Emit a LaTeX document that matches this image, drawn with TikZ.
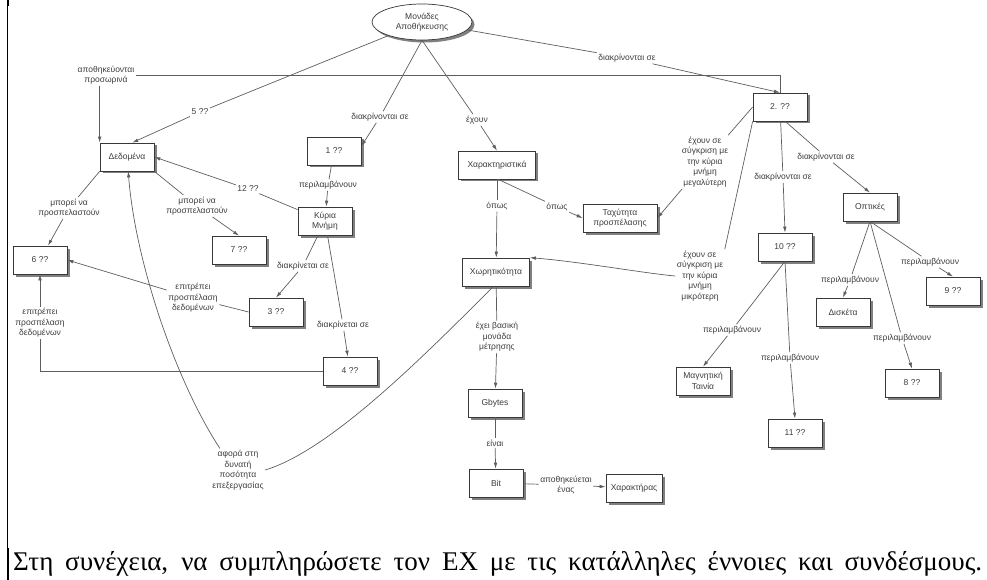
\documentclass[tikz,border=0pt]{standalone}
\usepackage{fontspec}
\setmainfont{Liberation Serif}
\newfontfamily\diagfont{Liberation Sans}
\usetikzlibrary{arrows.meta,shadows,calc,shapes.geometric}
\definecolor{ink}{HTML}{3C3C3C}
\definecolor{wirec}{HTML}{5E5E5E}
\definecolor{framec}{HTML}{383838}

\begin{document}
\begin{tikzpicture}[x=1pt,y=-1pt,
  every node/.style={font=\diagfont\fontsize{8.5}{10.5}\selectfont, text=ink},
  boxshadow/.style={drop shadow={shadow xshift=2.5pt, shadow yshift=-2.5pt, fill=black!50, opacity=1}},
  concept/.style={draw=framec, fill=white, line width=0.7pt, minimum width=54pt,
    minimum height=28pt, inner sep=1pt, align=center, boxshadow},
  link/.style={inner sep=1.5pt, align=center},
  wire/.style={draw=wirec, line width=0.7pt},
  arr/.style={wire, -{Latex[length=6pt,width=3.6pt]}},
]
\useasboundingbox (0,0) rectangle (987,580);

% page margin rule
\draw[line width=1pt] (7.5,0) -- (7.5,548);
\draw[line width=2pt] (7.5,0) -- (7.5,6);
\draw[line width=2pt] (8,548) -- (8,580);

% concepts
\node[draw=framec, fill=white, line width=0.7pt, ellipse, minimum width=100pt,
  minimum height=36pt, inner sep=0pt, align=center, boxshadow] (ell) at (422,22) {Μονάδες\\Αποθήκευσης};
\node[concept] (dedomena) at (127,157) {Δεδομένα};
\node[concept] (one) at (334,151) {1 ??};
\node[concept] (two) at (780,107) {2. ??};
\node[concept, minimum width=77pt] (xarakt) at (497,165) {Χαρακτηριστικά};
\node[concept] (kyria) at (325,221) {Κύρια\\Μνήμη};
\node[concept] (six) at (40,260) {6 ??};
\node[concept] (seven) at (239,250) {7 ??};
\node[concept] (three) at (276,312) {3 ??};
\node[concept] (four) at (350,371) {4 ??};
\node[concept, minimum width=67pt] (xoritik) at (496,272) {Χωρητικότητα};
\node[concept, minimum width=74pt] (taxytita) at (620,218) {Ταχύτητα\\προσπέλασης};
\node[concept] (gbytes) at (495,403) {Gbytes};
\node[concept] (bit) at (496,483) {Bit};
\node[concept, minimum width=56pt] (xaraktiras) at (634,488) {Χαρακτήρας};
\node[concept] (ten) at (785,247) {10 ??};
\node[concept] (optikes) at (870,207) {Οπτικές};
\node[concept] (magn) at (703,381) {Μαγνητική\\Ταινία};
\node[concept] (eleven) at (795,433) {11 ??};
\node[concept] (disk) at (843,312) {Δισκέτα};
\node[concept] (nine) at (953,291) {9 ??};
\node[concept] (eight) at (912,383) {8 ??};

% linking phrases
\node[link] (lapoth) at (106,75) {αποθηκεύονται\\προσωρινά};
\node[link] (l5) at (200,112) {5 ??};
\node[link] (ltop) at (627,58) {διακρίνονται σε};
\node[link] (ldiak1) at (380,117) {διακρίνονται σε};
\node[link] (lexoun) at (477,120) {έχουν};
\node[link] (lper1) at (328,185) {περιλαμβάνουν};
\node[link] (l12) at (248,189) {12 ??};
\node[link] (lmporl) at (69,208) {μπορεί να\\προσπελαστούν};
\node[link] (lmporr) at (197,206) {μπορεί να\\προσπελαστούν};
\node[link] (ldiak3) at (303,266) {διακρίνεται σε};
\node[link] (ldiak4) at (343,325) {διακρίνεται σε};
\node[link] (lepit3) at (193,298) {επιτρέπει\\προσπέλαση\\δεδομένων};
\node[link] (lepit4) at (40,323) {επιτρέπει\\προσπέλαση\\δεδομένων};
\node[link] (lopos1) at (497,206) {όπως};
\node[link] (lopos2) at (557,207) {όπως};
\node[link] (lmeg) at (705,162) {έχουν σε\\σύγκριση με\\την κύρια\\μνήμη\\μεγαλύτερη};
\node[link] (lmikr) at (700,276) {έχουν σε\\σύγκριση με\\την κύρια\\μνήμη\\μικρότερη};
\node[link] (lvas) at (497,337) {έχει βασική\\μονάδα\\μέτρησης};
\node[link] (leinai) at (495,443) {είναι};
\node[link] (lena) at (566,485) {αποθηκεύεται\\ένας};
\node[link] (lafora) at (238,470) {αφορά στη\\δυνατή\\ποσότητα\\επεξεργασίας};
\node[link] (ldiak10) at (783,177) {διακρίνονται σε};
\node[link] (ldiakopt) at (826,157) {διακρίνονται σε};
\node[link] (lpermagn) at (732,330) {περιλαμβάνουν};
\node[link] (lper11) at (790,358) {περιλαμβάνουν};
\node[link] (lperdisk) at (850,280) {περιλαμβάνουν};
\node[link] (lper9) at (930,262) {περιλαμβάνουν};
\node[link] (lper8) at (902,338) {περιλαμβάνουν};

% connectors
\draw[wire] (ell) -- (l5);            \draw[arr] (l5) -- (dedomena.70);
\draw[wire] (ell) -- (ltop);          \draw[arr] (ltop) -- (two.north);
\draw[wire] (ell.south) -- (ldiak1);  \draw[arr] (ldiak1) -- (one.10);
\draw[wire] (ell.south) -- (lexoun);  \draw[arr] (lexoun) -- (xarakt.north);
\draw[wire] (one) -- (lper1);         \draw[arr] (lper1) -- (kyria);
\draw[wire] (kyria) -- (l12);         \draw[arr] (l12) -- (dedomena.east);
\draw[wire] (dedomena.south west) -- (lmporl); \draw[arr] (lmporl) -- (six);
\draw[wire] (dedomena.south east) -- (lmporr); \draw[arr] (lmporr) -- (seven.north);
\draw[wire] (kyria) -- (ldiak3);      \draw[arr] (ldiak3) -- (three.north);
\draw[wire] (kyria) -- (ldiak4);      \draw[arr] (ldiak4) -- (four);
\draw[wire] (three.west) -- (lepit3); \draw[arr] (lepit3) -- (six.east);
\draw[wire] (four.west) -| (lepit4.south); \draw[arr] (lepit4) -- (six.south);
\draw[wire] (xarakt) -- (lopos1);     \draw[arr] (lopos1) -- (xoritik);
\draw[wire] (xarakt.-85) -- (lopos2); \draw[arr] (lopos2) -- (taxytita.west);
\draw[wire] (two.west) -- (lmeg);     \draw[arr] (lmeg) -- (taxytita.east);
\draw[wire] (two.south west) -- (lmikr.north east);
\draw[arr] (lmikr.west) .. controls ($(lmikr.west)+(-33,-3)$) and ($(xoritik.north east)+(50,4)$) .. (xoritik.north east);
\draw[wire] (xoritik) -- (lvas);      \draw[arr] (lvas) -- (gbytes);
\draw[wire] (gbytes) -- (leinai);     \draw[arr] (leinai) -- (bit);
\draw[wire] (bit) -- (lena);          \draw[arr] (lena) -- (xaraktiras);
\draw[wire] (xoritik.-100) .. controls (420,360) and (330,450) .. (lafora.east);
\draw[arr] (lafora.130) .. controls (175,380) and (135,260) .. (dedomena.-85);
\draw[wire] (two) -- (ldiak10);       \draw[arr] (ldiak10) -- (ten.north);
\draw[wire] (two.-70) -- (ldiakopt);  \draw[arr] (ldiakopt) -- (optikes.north);
\draw[wire] (ten.south) -- (lpermagn); \draw[arr] (lpermagn) -- (magn.north);
\draw[wire] (ten.south) -- (lper11);  \draw[arr] (lper11) -- (eleven.north);
\draw[wire] (optikes.south) -- (lperdisk); \draw[arr] (lperdisk) -- (disk.north);
\draw[wire] (optikes.south) -- (lper9);    \draw[arr] (lper9) -- (nine.north);
\draw[wire] (optikes.south) -- (lper8);    \draw[arr] (lper8) -- (eight.north);
\draw[wire] (two.north) |- (lapoth.east);
\draw[arr] (lapoth.south -| dedomena.north west) -- (dedomena.north west);

% instruction line
\node[anchor=base west, inner sep=0pt, text=black, font=\rmfamily\fontsize{27}{31}\selectfont]
  (note) at (13,570) {\makebox[969pt][s]{Στη συνέχεια, να συμπληρώσετε τον ΕΧ με τις κατάλληλες έννοιες και συνδέσμους.}};
\end{tikzpicture}
\end{document}
